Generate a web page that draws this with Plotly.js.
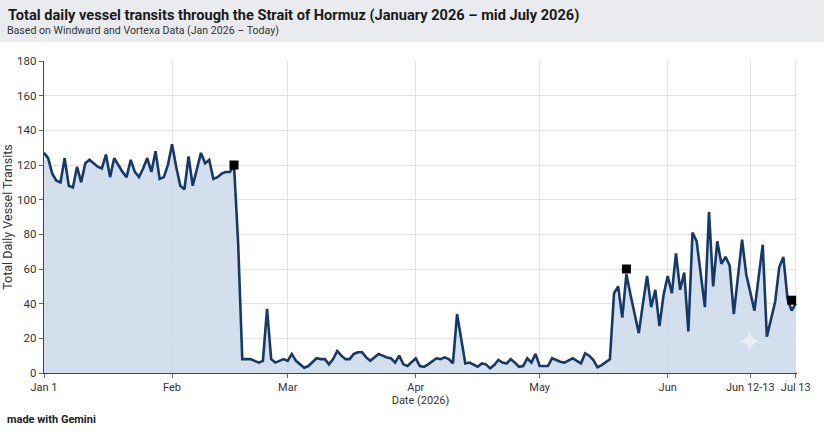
<!DOCTYPE html>
<html><head><meta charset="utf-8">
<script src="https://cdn.plot.ly/plotly-3.0.1.min.js"></script>
<style>html,body{margin:0;padding:0;background:#fff}#chart{width:824px;height:437px}</style>
</head><body><div id="chart"></div>
<script>
// Daily totals, day 0 = Jan 1 2026
const transits = [
127,124,115,111,110,124,108,107,119,110,
121,123,121,119,118,126,113,124,120,116,
113,123,116,113,118,124,116,128,112,113,
120,132,119,108,106,125,108,118,127,121,
123,112,113,115,116,116,120,75,8,8,
8,7,6,7,37,8,6,7,8,7,
11,7,5,3,4,6,8.5,8,8,5,
8,12.7,10,8,8,11,12,12,9,7,
9,11,10,9,8.5,6,10,5,4,6,
8.5,4,3.5,5,7,8.5,8,9,8,5.6,
34,20,5.5,6,5,3.6,5.5,5,2.7,4.6,
7.5,6,5.5,8,6,3.6,4,8.5,6,11,
4,4,4,8.5,7.5,6.5,6,7.5,8.5,7,
5.6,11.3,10,7.5,3.3,4.6,6,7.9,46,50,
32,57,45,34,23,40,56,38,48,27,
45,56,46,69,48,58,24,81,76,57,
38,93,50,76,63,67,62,34,55,77,
57,47,36,55,74,21,32,41,61,67,
43,36,40
];
const days = transits.map((v, i) => i);
const markerDays = [46, 141, 181];
const markerValues = [120, 60, 42];
const tickDays = [0, 31, 59, 90, 120, 151, 171, 182];
const tickLabels = ['Jan 1', 'Feb', 'Mar', 'Apr', 'May', 'Jun', 'Jun 12-13', 'Jul 13'];
const yTicks = [0, 20, 40, 60, 80, 100, 120, 140, 160, 180];

const FONT = 'Roboto, "Noto Sans", sans-serif';

const traces = [
  {
    x: days, y: transits, type: 'scatter', mode: 'lines',
    line: {color: '#163a68', width: 2.6},
    fill: 'tozeroy', fillcolor: 'rgba(204,217,235,0.85)',
    hoverinfo: 'skip', showlegend: false
  },
  {
    x: markerDays, y: markerValues, type: 'scatter', mode: 'markers',
    marker: {symbol: 'square', size: 9, color: '#000'},
    showlegend: false
  }
];

const W = 824, H = 437, L = 44, R = 27, T = 61, B = 64;
const pw = W - L - R, ph = H - T - B;
const px = v => (v - L) / pw;
const py = v => (H - B - v) / ph;

const layout = {
  width: W, height: H,
  margin: {l: L, r: R, t: T, b: B},
  paper_bgcolor: '#fff', plot_bgcolor: '#fff',
  font: {family: FONT, color: '#333', size: 11},
  title: {
    text: '<b>Total daily vessel transits through the Strait of Hormuz (January 2026 – mid July 2026)</b>',
    font: {family: FONT, size: 14.6, color: '#1a1a1a'},
    x: 8 / W, xanchor: 'left', xref: 'container',
    y: 1 - 15 / H, yanchor: 'middle', yref: 'container'
  },
  xaxis: {
    range: [0, 182.3], tickmode: 'array', tickvals: tickDays, ticktext: tickLabels,
    showgrid: true, gridcolor: '#e3e3e3', gridwidth: 1,
    showline: true, linecolor: '#444', linewidth: 1.2,
    ticks: 'outside', ticklen: 4, tickcolor: '#666',
    tickfont: {family: FONT, size: 11, color: '#333'},
    zeroline: false,
    title: {text: 'Date (2026)', font: {family: FONT, size: 11, color: '#333'}, standoff: 0}
  },
  yaxis: {
    range: [0, 180], tickmode: 'array', tickvals: yTicks,
    showgrid: true, gridcolor: '#e3e3e3', gridwidth: 1,
    showline: true, linecolor: '#444', linewidth: 1.2,
    ticks: 'outside', ticklen: 4, tickcolor: '#666',
    tickfont: {family: FONT, size: 11.5, color: '#333'},
    zeroline: false,
    title: {text: 'Total Daily Vessel Transits', font: {family: FONT, size: 12.5, color: '#333'}, standoff: 4}
  },
  shapes: [
    {type: 'rect', xref: 'paper', yref: 'paper', x0: px(0), x1: px(W), y0: py(42), y1: py(0),
     fillcolor: '#e9ebee', line: {width: 0}, layer: 'below'}
  ],
  annotations: [
    {text: 'Based on Windward and Vortexa Data (Jan 2026 – Today)', xref: 'paper', yref: 'paper',
     x: px(5), y: py(31), xanchor: 'left', yanchor: 'middle', showarrow: false,
     font: {family: FONT, size: 10.6, color: '#333'}},
    {text: '<b>made with Gemini</b>', xref: 'paper', yref: 'paper',
     x: px(5), y: py(419), xanchor: 'left', yanchor: 'middle', showarrow: false,
     font: {family: FONT, size: 11, color: '#222'}},
    {text: '✦', xref: 'paper', yref: 'paper', x: px(749), y: py(341), xanchor: 'center', yanchor: 'middle',
     showarrow: false, font: {size: 30, color: 'rgba(255,255,255,0.55)'}}
  ]
};

Plotly.newPlot('chart', traces, layout, {displayModeBar: false, staticPlot: true});
</script>
</body></html>
